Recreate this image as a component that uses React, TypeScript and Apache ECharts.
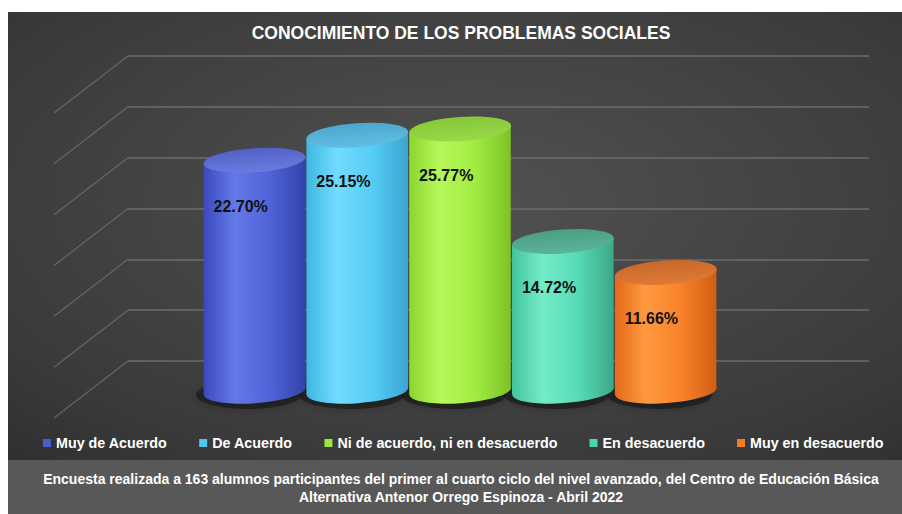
import React, { useEffect, useRef } from 'react';
import * as echarts from 'echarts';

const titleText = 'CONOCIMIENTO DE LOS PROBLEMAS SOCIALES';
const categories = [
  'Muy de Acuerdo',
  'De Acuerdo',
  'Ni de acuerdo, ni en desacuerdo',
  'En desacuerdo',
  'Muy en desacuerdo',
];
const values = [22.7, 25.15, 25.77, 14.72, 11.66];
const yMin = 0;
const yMax = 30;
const yInterval = 5;
const yTicks = [0, 5, 10, 15, 20, 25, 30];
const footerLines = [
  'Encuesta realizada a 163 alumnos participantes del primer al cuarto ciclo del nivel avanzado, del Centro de Educación Básica',
  'Alternativa Antenor Orrego Espinoza - Abril 2022',
];

const legendColors = ['#4a5bd2', '#4fc6ee', '#9de63c', '#4fd2ae', '#f37b22'];
const bodyStops = [
  ['#3a4abd', '#6478e6', '#5064d8', '#3342aa'],
  ['#3fb6e2', '#72dcff', '#55ccf6', '#3aa6d0'],
  ['#8bd62e', '#b6f85c', '#a0ec40', '#7cc228'],
  ['#42c49e', '#74ecc8', '#58dab6', '#3aa888'],
  ['#e2691a', '#ff9a40', '#f8822a', '#d05e14'],
];
const topStops = [
  ['#5260c6', '#6a7ce0'],
  ['#4ea6cc', '#60bfe4'],
  ['#84c836', '#9ad84a'],
  ['#4a9e84', '#5cb498'],
  ['#c8682a', '#e07a36'],
];

const FONT = '"Liberation Sans", Arial, sans-serif';

export default function App() {
  const ref = useRef<HTMLDivElement>(null);
  useEffect(() => {
    if (!ref.current) return;
    const chart = echarts.init(ref.current, undefined, { renderer: 'svg' });
    const tilt = 0.07;
    const ry = 12;

    const cylinderSeries = categories.map((name, i) => ({
      type: 'custom',
      name,
      xAxisIndex: 1,
      yAxisIndex: 1,
      itemStyle: { color: legendColors[i] },
      data: [[i, values[i]]],
      renderItem: (params: any, api: any) => {
        const top = api.coord([api.value(0), api.value(1)]);
        const base = api.coord([api.value(0), 0]);
        const bw = api.size([1, 0])[0];
        const rx = bw / 2 - 0.5;
        const c = Math.cos(tilt);
        const s = Math.sin(tilt);
        const cx = top[0];
        const st = bodyStops[i];
        const grad = new echarts.graphic.LinearGradient(0, 0, 1, 0, [
          { offset: 0, color: st[0] },
          { offset: 0.3, color: st[1] },
          { offset: 0.65, color: st[2] },
          { offset: 1, color: st[3] },
        ]);
        const tgrad = new echarts.graphic.LinearGradient(0, 0, 0, 1, [
          { offset: 0, color: topStops[i][0] },
          { offset: 1, color: topStops[i][1] },
        ]);
        return {
          type: 'group',
          children: [
            {
              type: 'ellipse',
              shape: { cx, cy: base[1], rx, ry },
              rotation: tilt,
              originX: cx,
              originY: base[1],
              style: { fill: grad },
            },
            {
              type: 'polygon',
              shape: {
                points: [
                  [cx - rx * c, top[1] + rx * s],
                  [cx + rx * c, top[1] - rx * s],
                  [cx + rx * c, base[1] - rx * s],
                  [cx - rx * c, base[1] + rx * s],
                ],
              },
              style: { fill: grad },
            },
            {
              type: 'ellipse',
              shape: { cx, cy: top[1], rx, ry },
              rotation: tilt,
              originX: cx,
              originY: top[1],
              style: { fill: tgrad },
            },
            {
              type: 'text',
              style: {
                text: api.value(1).toFixed(2) + '%',
                x: cx - rx + 10,
                y: top[1] + 46,
                fill: '#111',
                font: 'bold 16px ' + FONT,
                align: 'left',
                verticalAlign: 'middle',
              },
            },
          ],
        };
      },
    }));

    chart.setOption({
      animation: false,
      backgroundColor: '#ffffff',
      title: {
        text: titleText,
        left: 461,
        top: 24,
        textAlign: 'center',
        padding: 0,
        textStyle: { color: '#ffffff', fontSize: 17.5, fontWeight: 'bold', fontFamily: FONT },
      },
      graphic: [
        {
          type: 'rect',
          z: -10,
          shape: { x: 8, y: 12, width: 894, height: 448 },
          style: {
            fill: new echarts.graphic.RadialGradient(0.52, 0.42, 1.0, [
              { offset: 0, color: '#515151' },
              { offset: 0.6, color: '#3a3a3a' },
              { offset: 1, color: '#232323' },
            ]),
          },
        },
        {
          type: 'rect',
          z: -10,
          shape: { x: 8, y: 460, width: 894, height: 54 },
          style: { fill: '#585858' },
        },
        {
          type: 'text',
          x: 461,
          y: 479,
          style: {
            text: footerLines[0],
            fill: '#ffffff',
            font: 'bold 14px ' + FONT,
            align: 'center',
            verticalAlign: 'middle',
          },
        },
        {
          type: 'text',
          x: 461,
          y: 497,
          style: {
            text: footerLines[1],
            fill: '#ffffff',
            font: 'bold 14px ' + FONT,
            align: 'center',
            verticalAlign: 'middle',
          },
        },
      ],
      legend: {
        data: categories,
        top: 436,
        left: 43,
        padding: 0,
        itemWidth: 8,
        itemHeight: 8,
        itemGap: 32,
        icon: 'rect',
        textStyle: { color: '#ffffff', fontSize: 14.3, fontWeight: 'bold', fontFamily: FONT },
      },
      grid: [
        { left: 128, right: 33, top: 56, bottom: 153 },
        { left: 203, right: 185, top: 86, bottom: 123 },
      ],
      xAxis: [
        { type: 'value', gridIndex: 0, min: 0, max: 1, show: false, splitLine: { show: false } },
        { type: 'category', gridIndex: 1, data: categories, show: false },
      ],
      yAxis: [
        {
          type: 'value',
          gridIndex: 0,
          min: yMin,
          max: yMax,
          interval: yInterval,
          axisLine: { show: false },
          axisTick: { show: false },
          axisLabel: { show: false },
          splitLine: { show: true, lineStyle: { color: '#6c6c6c', width: 1.6 } },
        },
        { type: 'value', gridIndex: 1, min: yMin, max: yMax, interval: yInterval, show: false, splitLine: { show: false } },
      ],
      series: [
        {
          type: 'custom',
          name: 'depth',
          xAxisIndex: 0,
          yAxisIndex: 0,
          data: yTicks.map((v) => [0, v]),
          renderItem: (params: any, api: any) => {
            const p = api.coord([api.value(0), api.value(1)]);
            return {
              type: 'line',
              shape: { x1: p[0], y1: p[1], x2: p[0] - 74, y2: p[1] + 57 },
              style: { stroke: '#666666', lineWidth: 1.2 },
            };
          },
        },
        {
          type: 'custom',
          name: 'shadow',
          xAxisIndex: 1,
          yAxisIndex: 1,
          data: values.map((v, i) => [i, v]),
          renderItem: (params: any, api: any) => {
            const base = api.coord([api.value(0), 0]);
            const bw = api.size([1, 0])[0];
            return {
              type: 'ellipse',
              shape: { cx: base[0] - 6, cy: base[1] + 4, rx: bw / 2 + 1, ry: ry + 2 },
              style: {
                fill: 'rgba(0,0,0,0.35)',
                shadowBlur: 10,
                shadowColor: 'rgba(0,0,0,0.7)',
              },
            };
          },
        },
        ...cylinderSeries,
      ],
    });
    return () => chart.dispose();
  }, []);
  return <div ref={ref} style={{ position: 'absolute', left: 0, top: 0, width: 902, height: 514 }} />;
}
